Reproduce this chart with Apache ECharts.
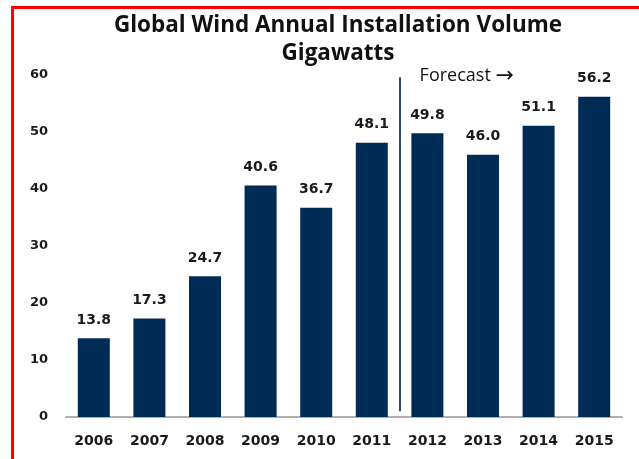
<!DOCTYPE html>
<html><head><meta charset="utf-8">
<script src="https://cdn.jsdelivr.net/npm/echarts@6/dist/echarts.min.js"></script>
<style>html,body{margin:0;padding:0;background:#fff}#c{width:639px;height:459px}</style>
</head><body><div id="c"></div>
<script>
const years = ['2006','2007','2008','2009','2010','2011','2012','2013','2014','2015'];
const volumes = [13.8, 17.3, 24.7, 40.6, 36.7, 48.1, 49.8, 46.0, 51.1, 56.2];
const yTicks = [0, 10, 20, 30, 40, 50, 60];
const forecastAfter = 5.5; // between 2011 and 2012
const forecastLineRange = [59.6, 1.0];

const TFONT = 'Open Sans';
const NFONT = 'DejaVu Sans';
const chart = echarts.init(document.getElementById('c'));
const border = {
  type: 'rect', shape: {x: 12.5, y: 7.5, width: 700, height: 500},
  style: {fill: 'none', stroke: '#ff0000', lineWidth: 3}, z: 100
};
chart.setOption({
  animation: false,
  title: {
    text: 'Global Wind Annual Installation Volume\nGigawatts',
    left: 333, top: 7, textAlign: 'center',
    textStyle: {fontFamily: TFONT, fontWeight: 'bold', fontSize: 22.5, lineHeight: 28, color: '#111'}
  },
  grid: {left: 66, right: 17, top: 75, bottom: 42},
  xAxis: [{
    type: 'category', data: years,
    axisLine: {lineStyle: {color: '#b0b0b0', width: 2}},
    axisTick: {show: false},
    axisLabel: {fontFamily: NFONT, fontWeight: 'bold', fontSize: 14, color: '#1a1a1a', margin: 17}
  }, {
    type: 'value', min: -0.5, max: 9.5, show: false
  }],
  yAxis: {
    type: 'value', min: yTicks[0], max: yTicks[yTicks.length-1], interval: 10,
    axisLine: {show: false}, axisTick: {show: false}, splitLine: {show: false},
    axisLabel: {fontFamily: NFONT, fontWeight: 'bold', fontSize: 13, color: '#1a1a1a', margin: 18}
  },
  series: [{
    type: 'bar', data: volumes, barWidth: 32,
    itemStyle: {color: '#002b55'},
    label: {show: true, position: 'top', distance: 11, formatter: p => p.value.toFixed(1),
      fontFamily: NFONT, fontWeight: 'bold', fontSize: 14, color: '#1a1a1a'}
  }, {
    type: 'line', xAxisIndex: 1, data: [],
    markLine: {symbol: 'none', silent: true,
      lineStyle: {color: '#2a4670', width: 2, type: 'solid'},
      label: {show: false},
      data: [[{coord: [forecastAfter, forecastLineRange[0]]}, {coord: [forecastAfter, forecastLineRange[1]]}]]}
  }],
  graphic: [border]
});
const px = chart.convertToPixel({xAxisIndex: 1, yAxisIndex: 0}, [forecastAfter, 60]);
chart.setOption({graphic: [border, {
    type: 'text', x: px[0] + 20, y: px[1] + 1,
    style: {
      text: 'Forecast {a|\u2192}',
      fontFamily: TFONT, fontSize: 18, fill: '#111', textVerticalAlign: 'middle',
      rich: {a: {fontFamily: NFONT, fontSize: 22, fill: '#111', color: '#111'}}
    }
  }]});
</script></body></html>
